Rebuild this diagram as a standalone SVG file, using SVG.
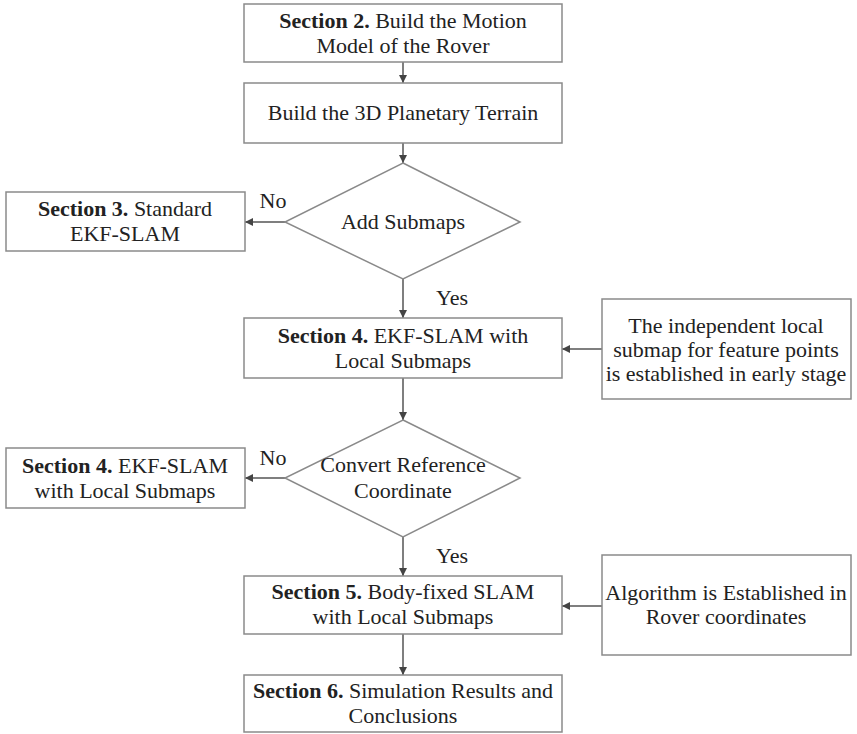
<svg xmlns="http://www.w3.org/2000/svg" width="857" height="734" viewBox="0 0 857 734">
<defs>
<marker id="ah" viewBox="0 0 10 10" refX="10" refY="5" markerWidth="9" markerHeight="8" markerUnits="userSpaceOnUse" orient="auto">
<path d="M0,0 L10,5 L0,10 z" fill="#444"/>
</marker>
<style>
.box{fill:#fff;stroke:#8a8a8a;stroke-width:1.5}
.t{font-family:"Liberation Serif","Times New Roman",serif;font-size:22px;fill:#222;text-anchor:middle}
.b{font-weight:bold}
.c{stroke:#555;stroke-width:1.5;fill:none;marker-end:url(#ah)}
</style>
</defs>
<rect width="857" height="734" fill="#fff"/>
<g id="connectors">
<line class="c" x1="403" y1="62" x2="403" y2="83"/>
<line class="c" x1="403" y1="143" x2="403" y2="163"/>
<line class="c" x1="285" y1="222" x2="245" y2="222"/>
<line class="c" x1="403" y1="279" x2="403" y2="318"/>
<line class="c" x1="602" y1="349" x2="562" y2="349"/>
<line class="c" x1="403" y1="378" x2="403" y2="420"/>
<line class="c" x1="285" y1="478" x2="245" y2="478"/>
<line class="c" x1="403" y1="537" x2="403" y2="576"/>
<line class="c" x1="602" y1="606" x2="562" y2="606"/>
<line class="c" x1="403" y1="634" x2="403" y2="675"/>
<text class="t" x="273" y="208">No</text>
<text class="t" x="452" y="305">Yes</text>
<text class="t" x="273" y="465">No</text>
<text class="t" x="452" y="563">Yes</text>
</g>
<g id="n1">
<rect class="box" x="244" y="4" width="318" height="58"/>
<text class="t" x="403" y="28"><tspan class="b">Section 2.</tspan> Build the Motion</text>
<text class="t" x="403" y="53">Model of the Rover</text>
</g>
<g id="n2">
<rect class="box" x="244" y="83" width="318" height="60"/>
<text class="t" x="403" y="120">Build the 3D Planetary Terrain</text>
</g>
<g id="d1">
<polygon class="box" points="403,163 520,222 403,279 285,222"/>
<text class="t" x="403" y="229">Add Submaps</text>
</g>
<g id="n3">
<rect class="box" x="6" y="192" width="239" height="59"/>
<text class="t" x="125" y="216"><tspan class="b">Section 3.</tspan> Standard</text>
<text class="t" x="125" y="241">EKF-SLAM</text>
</g>
<g id="n4">
<rect class="box" x="244" y="318" width="318" height="60"/>
<text class="t" x="403" y="343"><tspan class="b">Section 4.</tspan> EKF-SLAM with</text>
<text class="t" x="403" y="368">Local Submaps</text>
</g>
<g id="r1">
<rect class="box" x="602" y="299" width="249" height="100"/>
<text class="t" x="726" y="333">The independent local</text>
<text class="t" x="726" y="357">submap for feature points</text>
<text class="t" x="726" y="381">is established in early stage</text>
</g>
<g id="d2">
<polygon class="box" points="403,420 520,478 403,537 285,478"/>
<text class="t" x="403" y="472">Convert Reference</text>
<text class="t" x="403" y="498">Coordinate</text>
</g>
<g id="n5">
<rect class="box" x="6" y="448" width="239" height="60"/>
<text class="t" x="125" y="473"><tspan class="b">Section 4.</tspan> EKF-SLAM</text>
<text class="t" x="125" y="498">with Local Submaps</text>
</g>
<g id="n6">
<rect class="box" x="244" y="576" width="318" height="58"/>
<text class="t" x="403" y="599"><tspan class="b">Section 5.</tspan> Body-fixed SLAM</text>
<text class="t" x="403" y="624">with Local Submaps</text>
</g>
<g id="r2">
<rect class="box" x="602" y="555" width="249" height="100"/>
<text class="t" x="726" y="600">Algorithm is Established in</text>
<text class="t" x="726" y="624">Rover coordinates</text>
</g>
<g id="n7">
<rect class="box" x="244" y="675" width="318" height="57"/>
<text class="t" x="403" y="698"><tspan class="b">Section 6.</tspan> Simulation Results and</text>
<text class="t" x="403" y="723">Conclusions</text>
</g>
</svg>
